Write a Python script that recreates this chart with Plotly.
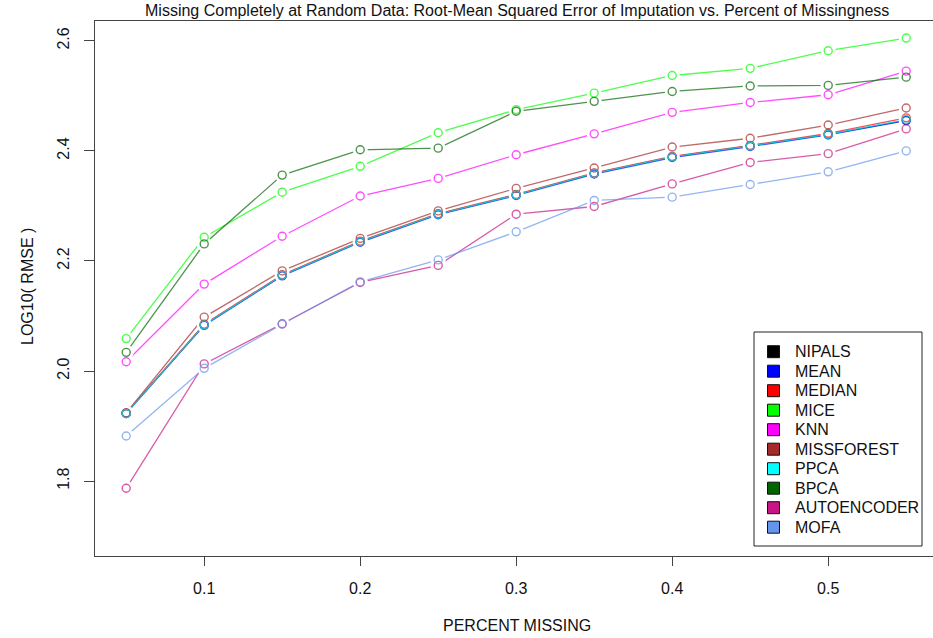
import plotly.graph_objects as go

# Fraction of entries removed completely at random
pct_missing = [0.05, 0.10, 0.15, 0.20, 0.25, 0.30, 0.35, 0.40, 0.45, 0.50, 0.55]

# log10(RMSE) of each imputation method
nipals = [1.923, 2.084, 2.174, 2.235, 2.285, 2.320, 2.359, 2.389, 2.409, 2.430, 2.456]
mean_imp = [1.923, 2.083, 2.173, 2.234, 2.284, 2.319, 2.358, 2.388, 2.408, 2.429, 2.455]
median_imp = [1.924, 2.085, 2.175, 2.236, 2.286, 2.321, 2.360, 2.390, 2.410, 2.432, 2.460]
mice = [2.059, 2.243, 2.325, 2.372, 2.433, 2.475, 2.505, 2.537, 2.550, 2.582, 2.605]
knn = [2.017, 2.158, 2.245, 2.318, 2.350, 2.393, 2.431, 2.470, 2.488, 2.502, 2.545]
missforest = [1.924, 2.098, 2.182, 2.241, 2.291, 2.332, 2.369, 2.407, 2.423, 2.447, 2.478]
ppca = [1.923, 2.084, 2.174, 2.235, 2.285, 2.320, 2.359, 2.389, 2.409, 2.430, 2.457]
bpca = [2.034, 2.231, 2.356, 2.402, 2.405, 2.472, 2.490, 2.508, 2.518, 2.519, 2.534]
autoencoder = [1.787, 2.013, 2.086, 2.161, 2.192, 2.285, 2.299, 2.340, 2.379, 2.395, 2.440]
mofa = [1.882, 2.005, 2.085, 2.162, 2.202, 2.253, 2.310, 2.316, 2.339, 2.362, 2.400]

method_names = ["NIPALS", "MEAN", "MEDIAN", "MICE", "KNN", "MISSFOREST",
                "PPCA", "BPCA", "AUTOENCODER", "MOFA"]
method_values = [nipals, mean_imp, median_imp, mice, knn, missforest,
                 ppca, bpca, autoencoder, mofa]
method_rgb = [(0, 0, 0), (0, 0, 255), (255, 0, 0), (0, 255, 0), (255, 0, 255),
              (165, 42, 42), (0, 255, 255), (0, 100, 0), (199, 21, 133),
              (100, 149, 237)]

x_ticks = [0.1, 0.2, 0.3, 0.4, 0.5]
y_ticks = [1.8, 2.0, 2.2, 2.4, 2.6]

W, H = 933, 638
L, R, T, B = 95, 0, 21, 82
PW, PH = W - L - R, H - T - B
FONT = "Liberation Sans, Arial, sans-serif"
TEXT_COLOR = "#111111"
AXIS_COLOR = "#444444"


def px_to_paper(px, py):
    return (px - L) / PW, (H - B - py) / PH


fig = go.Figure()

# Lines, broken around each point by a white disc (points-and-lines style)
for name, vals, rgb in zip(method_names, method_values, method_rgb):
    col = "rgba(%d,%d,%d,0.7)" % rgb
    fig.add_trace(go.Scatter(
        x=pct_missing, y=vals, name=name, mode="lines+markers",
        line=dict(color=col, width=1.3),
        marker=dict(symbol="circle", size=15, color="white",
                    line=dict(width=0)),
        showlegend=False, cliponaxis=False, hoverinfo="skip",
    ))

# Open circles on top
for name, vals, rgb in zip(method_names, method_values, method_rgb):
    col = "rgba(%d,%d,%d,0.7)" % rgb
    fig.add_trace(go.Scatter(
        x=pct_missing, y=vals, name=name, mode="markers",
        marker=dict(symbol="circle-open", size=8, color=col,
                    line=dict(width=1.4, color=col)),
        showlegend=False, cliponaxis=False,
    ))

# Legend box with filled squares
shapes = []
annotations = []
bx0, by0 = px_to_paper(754, 546)
bx1, by1 = px_to_paper(922, 332)
shapes.append(dict(type="rect", xref="paper", yref="paper", x0=bx0, y0=by0,
                   x1=bx1, y1=by1, line=dict(color="#222222", width=1),
                   fillcolor="white", layer="above"))
for i, (name, rgb) in enumerate(zip(method_names, method_rgb)):
    cy = 351.7 + i * 19.5
    sx0, sy0 = px_to_paper(767.5, cy + 6)
    sx1, sy1 = px_to_paper(779.5, cy - 6)
    shapes.append(dict(type="rect", xref="paper", yref="paper", x0=sx0, y0=sy0,
                       x1=sx1, y1=sy1, line=dict(color="#111111", width=1),
                       fillcolor="rgb(%d,%d,%d)" % rgb, layer="above"))
    tx, ty = px_to_paper(793, cy)
    annotations.append(dict(text=name, xref="paper", yref="paper", x=tx, y=ty,
                            xanchor="left", yanchor="middle", showarrow=False,
                            font=dict(family=FONT, size=16, color=TEXT_COLOR)))

# Titles
tx, ty = px_to_paper(516.5, 11)
annotations.append(dict(text="Missing Completely at Random Data: Root-Mean Squared Error of Imputation vs. Percent of Missingness",
                        xref="paper", yref="paper", x=tx, y=ty, xanchor="center",
                        yanchor="middle", showarrow=False,
                        font=dict(family=FONT, size=16, color=TEXT_COLOR)))
tx, ty = px_to_paper(516.5, 625)
annotations.append(dict(text="PERCENT MISSING", xref="paper", yref="paper", x=tx, y=ty,
                        xanchor="center", yanchor="middle", showarrow=False,
                        font=dict(family=FONT, size=16, color=TEXT_COLOR)))
tx, ty = px_to_paper(27, 287)
annotations.append(dict(text="LOG10( RMSE )", xref="paper", yref="paper", x=tx, y=ty,
                        xanchor="center", yanchor="middle", showarrow=False,
                        textangle=-90,
                        font=dict(family=FONT, size=16, color=TEXT_COLOR)))

fig.update_layout(
    width=W, height=H,
    margin=dict(l=L, r=R, t=T, b=B),
    paper_bgcolor="white", plot_bgcolor="white",
    shapes=shapes, annotations=annotations,
    font=dict(family=FONT, size=16, color=TEXT_COLOR),
)
fig.update_xaxes(
    range=[0.03, 0.03 + PW / 1560.0], tickvals=x_ticks,
    ticktext=[str(v) for v in x_ticks],
    showgrid=False, zeroline=False, showline=True, mirror=True,
    linecolor=AXIS_COLOR, linewidth=1, ticks="outside", ticklen=9,
    tickcolor=AXIS_COLOR, ticklabelstandoff=9,
    tickfont=dict(family=FONT, size=16, color=TEXT_COLOR),
)
fig.update_yaxes(
    range=[1.664, 2.636], tickvals=y_ticks,
    ticktext=["%.1f" % v for v in y_ticks],
    showgrid=False, zeroline=False, showline=True, mirror=False,
    linecolor=AXIS_COLOR, linewidth=1, ticks="outside", ticklen=10,
    tickcolor=AXIS_COLOR, tickangle=-90, ticklabelstandoff=9,
    tickfont=dict(family=FONT, size=16, color=TEXT_COLOR),
)

fig.write_html("out.html")
